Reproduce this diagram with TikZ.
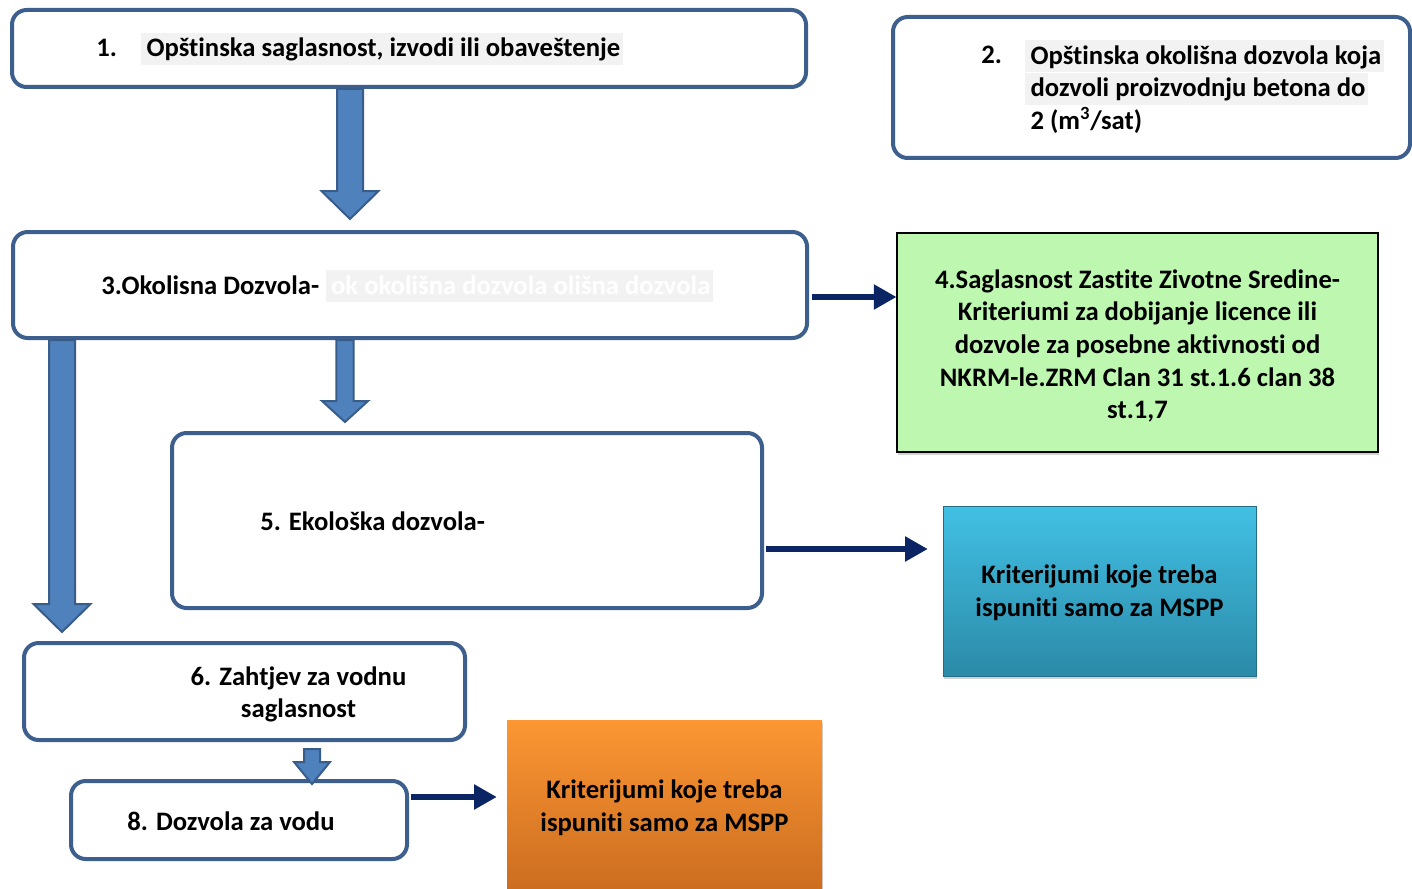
\documentclass[tikz,border=0pt]{standalone}
\usepackage{fontspec}
\setmainfont{Carlito}[Ligatures=NoCommon]
\usepackage{xcolor}
\usepackage{tikz}
\usetikzlibrary{arrows.meta,positioning,calc,shadows}

\definecolor{boxline}{HTML}{3C5F8E}
\definecolor{arrfill}{HTML}{4F81BD}
\definecolor{arrline}{HTML}{385D8A}
\definecolor{navy}{HTML}{0A2464}
\definecolor{hlgray}{HTML}{F2F2F2}
\definecolor{critgreen}{HTML}{BDF7B0}
\definecolor{cyantop}{HTML}{41C0E4}
\definecolor{cyanbot}{HTML}{2C8AA8}
\definecolor{orangetop}{HTML}{FC9733}
\definecolor{orangebot}{HTML}{CB6C20}

\newcommand{\hlbox}[1]{{\setlength{\fboxsep}{0pt}\colorbox{hlgray}{\rule[-6pt]{0pt}{24pt}\hspace{4pt}#1\hspace{2pt}}}}
\newcommand{\blockdown}[5]{%
  \draw[blockarrow] let \p1=#1, \p2=#2 in
    (\x1-#3,\y1) -- (\x1-#3,\y2+#5) -- (\x1-#4,\y2+#5) -- (\x1,\y2)
    -- (\x1+#4,\y2+#5) -- (\x1+#3,\y2+#5) -- (\x1+#3,\y1) -- cycle;}

\begin{document}
\begin{tikzpicture}[
    x=0.75pt, y=-0.75pt,
    every node/.style={font=\fontsize{20}{24.5}\selectfont\bfseries},
    roundbox/.style={rectangle, rounded corners=11pt, draw=boxline, line width=3pt, fill=white},
    critbox/.style={rectangle, align=center, drop shadow={shadow xshift=1pt, shadow yshift=-2.5pt, opacity=0.35}},
    label/.style={inner sep=0pt, align=left},
    navyarrow/.style={draw=navy, line width=4pt, -{Triangle[width=18pt,length=17pt]}},
    blockarrow/.style={draw=arrline, line width=1.5pt, fill=arrfill}
]
    \fill[white] (0,0) rectangle (1412,888);
    \useasboundingbox (0,0) rectangle (1412,888);

    % boxes
    \node[roundbox, minimum width=595.5pt, minimum height=57.75pt] (b1) at (409,48.5) {};
    \node[roundbox, minimum width=387.75pt, minimum height=105.75pt] (b2) at (1151.5,87.5) {};
    \node[roundbox, minimum width=595.5pt, minimum height=79.5pt] (b3) at (410,285) {};
    \node[critbox, draw=black, line width=0.8pt, fill=critgreen, minimum width=360.75pt, minimum height=164.25pt] (b4) at (1137.5,342.5)
        {\rule{0pt}{19pt}4.Saglasnost Zastite Zivotne Sredine-\\Kriteriumi za dobijanje licence ili\\dozvole za posebne aktivnosti od\\NKRM-le.ZRM Clan 31 st.1.6 clan 38\\st.1,7};
    \node[roundbox, minimum width=442.5pt, minimum height=131.25pt] (b5) at (467,520.5) {};
    \node[critbox, top color=cyantop, bottom color=cyanbot, draw=cyanbot!80!black, line width=0.4pt, minimum width=234.75pt, minimum height=127.5pt] (mspp1) at (1099.5,591)
        {\rule{0pt}{17pt}Kriterijumi koje treba\\ispuniti samo za MSPP};
    \node[roundbox, minimum width=330.75pt, minimum height=72.75pt] (b6) at (244.5,691.5) {};
    \node[roundbox, minimum width=252pt, minimum height=58.5pt] (b8) at (239,820) {};
    \node[critbox, top color=orangetop, bottom color=orangebot, minimum width=236.25pt, minimum height=129pt] (mspp2) at (664.5,806)
        {\rule{0pt}{17pt}Kriterijumi koje treba\\ispuniti samo za MSPP};

    % texts
    \node[label, anchor=base west] (n1) at ($(b1.west)+(86,8.5)$) {1.};
    \node[label, anchor=base west] (t1) at ($(b1.west)+(131,8.5)$) {\hlbox{Opštinska saglasnost, izvodi ili obaveštenje}};
    \node[label, anchor=base west] (n2) at ($(b2.west)+(90,-23.5)$) {2.};
    \node[label, anchor=north west] (t2) at ($(b2.west)+(134,-47.5)$)
        {\hlbox{Opštinska okolišna dozvola koja}\\\hlbox{dozvoli proizvodnju betona do}\\\hspace*{4pt}2 (m\textsuperscript{3}/sat)};
    \node[label, anchor=base west] (t3) at ($(b3.west)+(90,9)$) {3.Okolisna Dozvola-\hspace{5pt}\hlbox{\color{white}ok okolišna dozvola olišna dozvola}};
    \node[label, anchor=base west] (t5) at ($(b5.west)+(90,9.5)$) {5. Ekološka dozvola-};
    \node[label, align=center] (t6) at ($(b6.center)+(54,3)$) {6. Zahtjev za vodnu\\saglasnost};
    \node[label] (t8) at ($(b8.center)+(-8,1)$) {8. Dozvola za vodu};

    % block arrows
    \coordinate (a1top) at ($(b1.south)+(-59,0)$);
    \coordinate (a1tip) at ($(b3.north)+(-60,-11)$);
    \coordinate (a2top) at ($(b3.south)+(-65,0)$);
    \coordinate (a2tip) at ($(b5.north)+(-122,-9)$);
    \coordinate (a3top) at ($(b3.south)+(-348,0)$);
    \coordinate (a3tip) at ($(b6.north)+(-182,-9)$);
    \coordinate (a4top) at ($(b6.south)+(67.5,7)$);
    \coordinate (a4tip) at ($(b8.north)+(73,5)$);
    \blockdown{(a1top)}{(a1tip)}{9.75pt}{21.4pt}{21pt}
    \blockdown{(a2top)}{(a2tip)}{6.4pt}{17.25pt}{15.75pt}
    \blockdown{(a3top)}{(a3tip)}{9.75pt}{21.4pt}{21pt}
    \blockdown{(a4top)}{(a4tip)}{6pt}{13.5pt}{16.5pt}

    % navy arrows
    \coordinate (n1s) at ($(b3.east)+(3,12)$);
    \coordinate (n2s) at ($(b5.east)+(2,28.5)$);
    \coordinate (n3s) at ($(b8.east)+(2,-23)$);
    \draw[navyarrow] (n1s) -- (n1s -| b4.west);
    \draw[navyarrow] (n2s) -- ($(n2s -| mspp1.west)+(-15,0)$);
    \draw[navyarrow] (n3s) -- ($(n3s -| mspp2.west)+(-10,0)$);
\end{tikzpicture}
\end{document}
